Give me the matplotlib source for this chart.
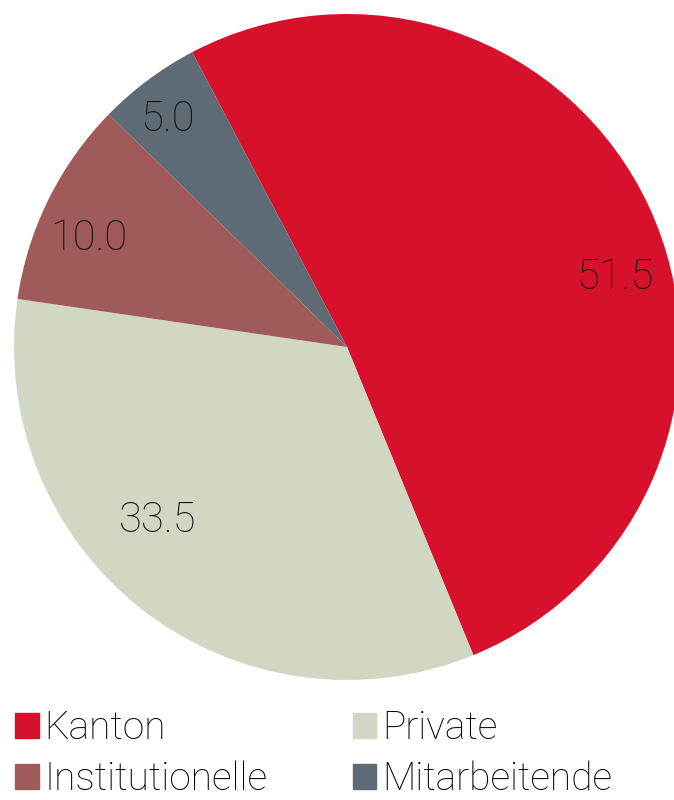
import matplotlib.pyplot as plt
from matplotlib.patches import Patch
import numpy as np

plt.rcParams['font.family'] = ['Roboto', 'DejaVu Sans']

categorias = ['Kanton', 'Private', 'Institutionelle', 'Mitarbeitende']
valores = [51.5, 33.5, 10.0, 5.0]
colores = ['#d7102b', '#d0d8c4', '#a05a5a', '#5f6b74']

# posicion de las etiquetas (desplazamiento angular y radio relativo)
desplaz_ang = [-10.5, -9.5, 3.5, 1.5]
radio_etq = [0.83, 0.77, 0.84, 0.87]

fig = plt.figure(figsize=(6.74, 8), dpi=100)
ax = fig.add_axes([14 / 674, 120 / 800, 666 / 674, 666 / 800])

cunas, _ = ax.pie(valores, colors=colores, startangle=117.7, counterclock=False,
                  wedgeprops=dict(linewidth=0))
ax.set_xlim(-1, 1)
ax.set_ylim(-1, 1)
ax.set_aspect('equal')

for cuna, v, da, r in zip(cunas, valores, desplaz_ang, radio_etq):
    ang = np.deg2rad((cuna.theta1 + cuna.theta2) / 2 + da)
    ax.text(r * np.cos(ang), r * np.sin(ang), f'{v:.1f}', ha='center', va='center',
            fontsize=30, fontweight='light', color='#111111')

# la leyenda se llena por columnas: Kanton/Institutionelle | Private/Mitarbeitende
orden = [0, 2, 1, 3]
leyenda = [Patch(color=colores[i], label=categorias[i]) for i in orden]
fig.legend(handles=leyenda, loc='lower left', bbox_to_anchor=(0.02, 0.0), ncol=2,
           frameon=False, handlelength=0.6, handleheight=0.6,
           handletextpad=0.15, columnspacing=2.2, labelspacing=0.34,
           borderaxespad=0.0, borderpad=0.05, prop=dict(weight='light', size=28))

fig.savefig('out.png', dpi=100)
